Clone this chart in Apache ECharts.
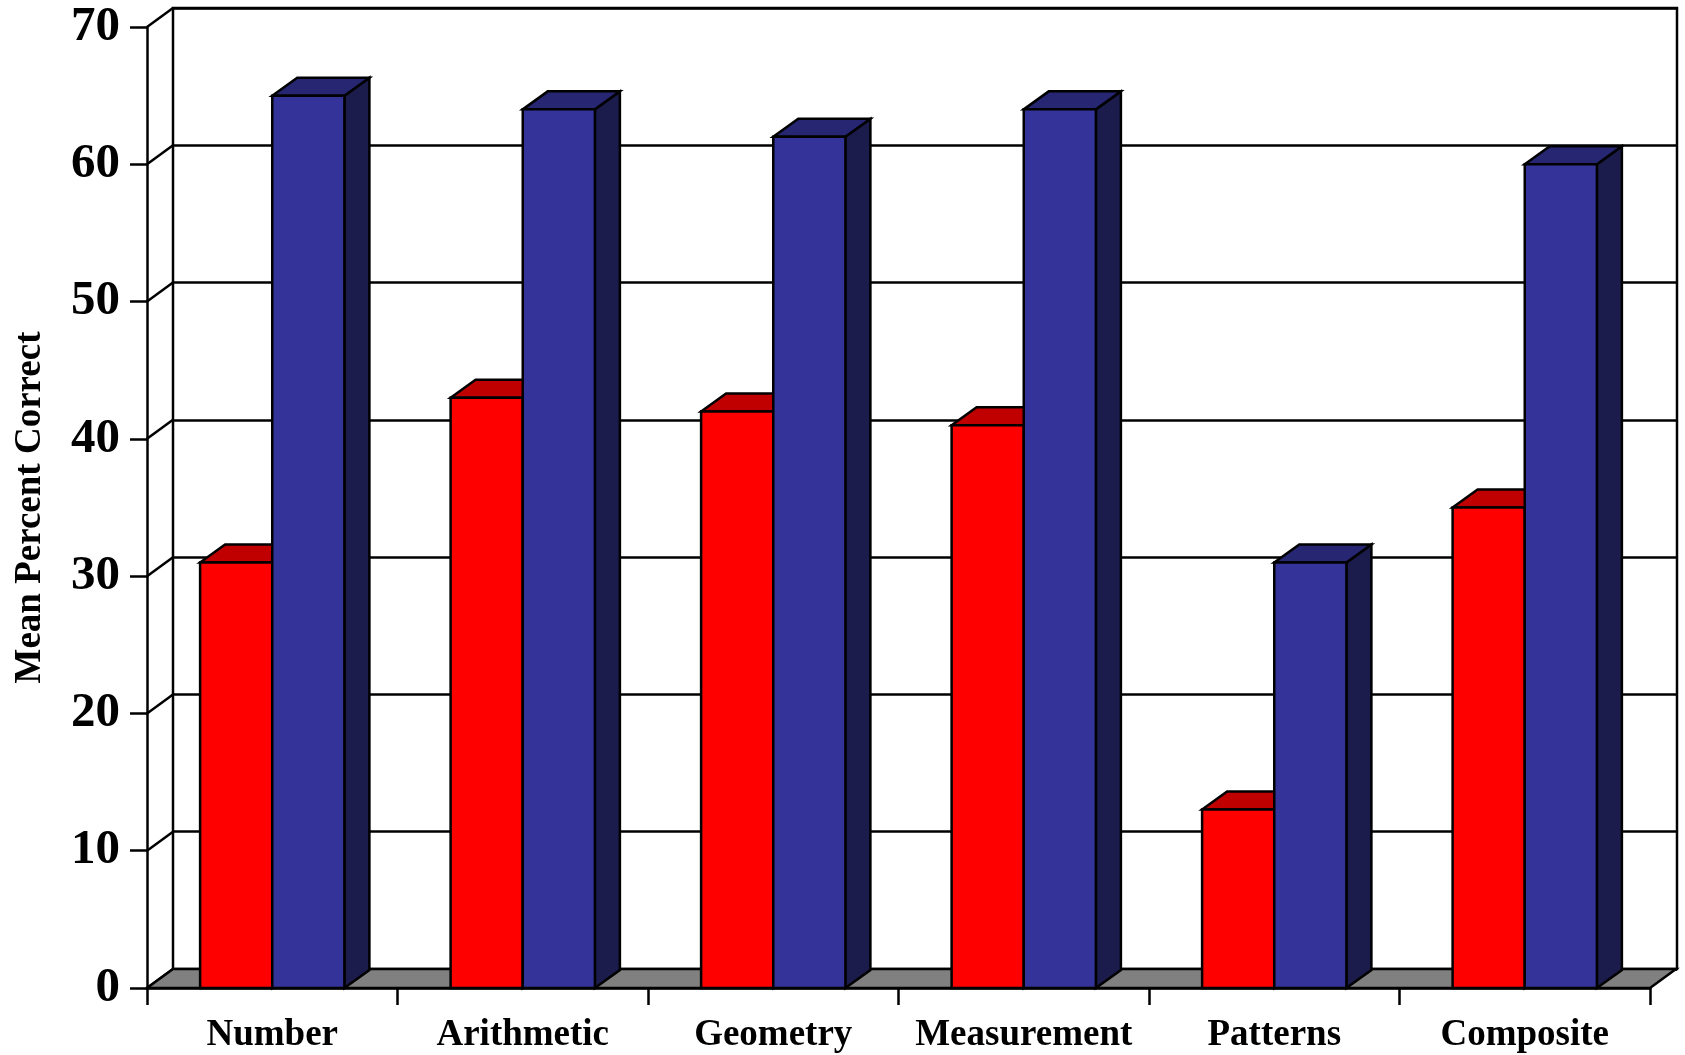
<!DOCTYPE html>
<html>
<head>
<meta charset="utf-8">
<script src="https://cdn.jsdelivr.net/npm/echarts@6/dist/echarts.min.js"></script>
<style>
html, body { margin: 0; padding: 0; background: #fff; }
#main { width: 1685px; height: 1055px; }
</style>
</head>
<body>
<div id="main"></div>
<script>
var categories = ['Number', 'Arithmetic', 'Geometry', 'Measurement', 'Patterns', 'Composite'];
var redValues = [31, 43, 42, 41, 13, 35];
var blueValues = [65, 64, 62, 64, 31, 60];
var yTicks = [0, 10, 20, 30, 40, 50, 60, 70];

// depth of the 3d look
var DX = 26, DY = -19;
var BX = 25, BY = -18;
var FONT = '"Liberation Serif", "Times New Roman", serif';

function barData(vals) {
    var Ret = [];
    for (var i = 0; i < vals.length; i++) {
        Ret.push([i, vals[i]]);
    }
    return Ret;
}

function makeBar(side, front, top, right) {
    return function (params, api) {
        var idx = api.value(0);
        var base = api.coord([idx, 0]);
        var tp = api.coord([idx, api.value(1)]);
        var bw = api.size([1, 0])[0] * 0.288;
        var x0 = side < 0 ? base[0] - bw : base[0];
        var x1 = x0 + bw;
        var yb = base[1], yt = tp[1];
        var st = { stroke: '#000', lineWidth: 2.5, lineJoin: 'miter' };
        return {
            type: 'group',
            children: [
                { type: 'polygon', shape: { points: [[x1, yb], [x1 + BX, yb + BY], [x1 + BX, yt + BY], [x1, yt]] },
                  style: Object.assign({ fill: right }, st) },
                { type: 'polygon', shape: { points: [[x0, yt], [x1, yt], [x1 + BX, yt + BY], [x0 + BX, yt + BY]] },
                  style: Object.assign({ fill: top }, st) },
                { type: 'rect', shape: { x: x0, y: yt, width: bw, height: yb - yt },
                  style: Object.assign({ fill: front }, st) }
            ]
        };
    };
}

var chart = echarts.init(document.getElementById('main'));
var option = {
    backgroundColor: '#fff',
    animation: false,
    grid: [
        { left: 147, top: 27, width: 1503, height: 961, outerBoundsMode: 'none', containLabel: false },
        { left: 173, top: 8, width: 1504, height: 961, outerBoundsMode: 'none', containLabel: false,
          show: true, borderColor: '#000', borderWidth: 2.5, backgroundColor: 'transparent' }
    ],
    xAxis: [
        {
            type: 'category', gridIndex: 0, data: categories,
            axisLine: { show: true, lineStyle: { color: '#000', width: 2.5 } },
            axisTick: { show: true, interval: 0, length: 17, lineStyle: { color: '#000', width: 2.5 } },
            axisLabel: { interval: 0, margin: 29, color: '#000', fontFamily: FONT, fontWeight: 'bold', fontSize: 37 },
            splitLine: { show: false }
        },
        {
            type: 'category', gridIndex: 1, data: categories,
            axisLine: { show: false }, axisTick: { show: false }, axisLabel: { show: false }
        }
    ],
    yAxis: [
        {
            type: 'value', gridIndex: 0, min: 0, max: 70, interval: 10,
            name: 'Mean Percent Correct', nameLocation: 'middle', nameRotate: 90, nameGap: 98,
            nameTextStyle: { color: '#000', fontFamily: FONT, fontWeight: 'bold', fontSize: 37 },
            axisLine: { show: true, lineStyle: { color: '#000', width: 2.5 } },
            axisTick: { show: true, length: 17, lineStyle: { color: '#000', width: 2.5 } },
            axisLabel: { margin: 27, color: '#000', fontFamily: FONT, fontWeight: 'bold', fontSize: 49 },
            splitLine: { show: false }
        },
        {
            type: 'value', gridIndex: 1, min: 0, max: 70, interval: 10,
            axisLine: { show: false }, axisTick: { show: false }, axisLabel: { show: false },
            splitLine: { show: true, lineStyle: { color: '#000', width: 2.5 } }
        }
    ],
    series: [
        {
            // left wall links for each gridline
            type: 'custom', xAxisIndex: 0, yAxisIndex: 0, silent: true, z: 1,
            data: yTicks.map(function (v) { return [0, v]; }),
            renderItem: function (params, api) {
                var cs = params.coordSys;
                var y = api.coord([0, api.value(1)])[1];
                return { type: 'line', shape: { x1: cs.x, y1: y, x2: cs.x + DX, y2: y + DY },
                         style: { stroke: '#000', lineWidth: 2.5 } };
            }
        },
        {
            // floor
            type: 'custom', xAxisIndex: 0, yAxisIndex: 0, silent: true, z: 1,
            data: [[0, 0]],
            renderItem: function (params, api) {
                var cs = params.coordSys;
                var y = api.coord([0, 0])[1];
                var xa = cs.x, xb = cs.x + cs.width;
                return { type: 'polygon',
                         shape: { points: [[xa, y], [xb, y], [xb + DX, y + DY], [xa + DX, y + DY]] },
                         style: { fill: '#808080', stroke: '#000', lineWidth: 2.5 } };
            }
        },
        {
            name: 'Red', type: 'custom', xAxisIndex: 0, yAxisIndex: 0, z: 3,
            data: barData(redValues),
            renderItem: makeBar(-1, '#ff0000', '#c00000', '#800000')
        },
        {
            name: 'Blue', type: 'custom', xAxisIndex: 0, yAxisIndex: 0, z: 4,
            data: barData(blueValues),
            renderItem: makeBar(1, '#333399', '#262673', '#1c1c4c')
        }
    ]
};
chart.setOption(option);
</script>
</body>
</html>
